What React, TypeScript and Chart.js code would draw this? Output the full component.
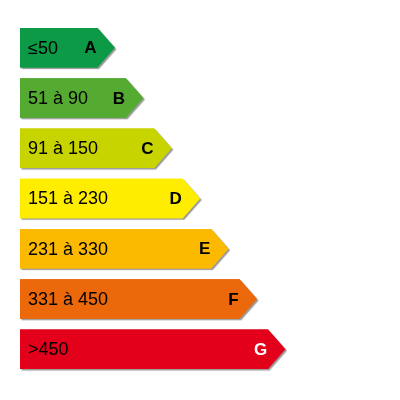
import React from 'react';
import { Chart, registerables } from 'chart.js';

Chart.register(...registerables);

const classLetters = ['A', 'B', 'C', 'D', 'E', 'F', 'G'];
const rangeLabels = ['≤50', '51 à 90', '91 à 150', '151 à 230', '231 à 330', '331 à 450', '>450'];
// bar length per class (arbitrary units, one step per class)
const classRank = [1, 2, 3, 4, 5, 6, 7];
const classColors = ['#0c9a47', '#55ab32', '#c8d400', '#ffed00', '#fbba00', '#eb690b', '#e2001a'];
const letterColors = ['#000', '#000', '#000', '#000', '#000', '#000', '#fff'];

const AXIS_MIN = -1.73;
const AXIS_MAX = 11.64;

const arrowPlugin = {
    id: 'energyArrows',
    beforeDatasetsDraw(chart: any) {
        const ctx = chart.ctx;
        const meta = chart.getDatasetMeta(0);
        meta.data.forEach((bar: any, i: number) => {
            const top = bar.y - bar.height / 2;
            const bottom = bar.y + bar.height / 2;
            const tip = bar.height * 0.44;
            ctx.save();
            ctx.shadowColor = 'rgba(0,0,0,0.4)';
            ctx.shadowOffsetX = 1.5;
            ctx.shadowOffsetY = 1.5;
            ctx.shadowBlur = 1;
            ctx.fillStyle = classColors[i];
            ctx.beginPath();
            ctx.moveTo(bar.base, top);
            ctx.lineTo(bar.x, top);
            ctx.lineTo(bar.x + tip, bar.y);
            ctx.lineTo(bar.x, bottom);
            ctx.lineTo(bar.base, bottom);
            ctx.closePath();
            ctx.fill();
            ctx.restore();
        });
    },
    afterDatasetsDraw(chart: any) {
        const ctx = chart.ctx;
        const meta = chart.getDatasetMeta(0);
        meta.data.forEach((bar: any, i: number) => {
            ctx.save();
            ctx.textBaseline = 'middle';
            ctx.fillStyle = '#000';
            ctx.textAlign = 'left';
            ctx.font = '18px "Liberation Sans", Arial, sans-serif';
            ctx.fillText(rangeLabels[i], bar.base + 8, bar.y + 1);
            ctx.textAlign = 'right';
            ctx.font = 'bold 17px "Liberation Sans", Arial, sans-serif';
            ctx.fillStyle = letterColors[i];
            ctx.fillText(classLetters[i], bar.x - 1, bar.y + 1);
            ctx.restore();
        });
    }
};

const EnergyLabel: React.FC = () => {
    const chartRef = React.useRef<HTMLCanvasElement>(null);
    const chartInstance = React.useRef<Chart | null>(null);

    React.useEffect(() => {
        if (chartRef.current) {
            const ctx = chartRef.current.getContext('2d');
            if (ctx) {
                if (chartInstance.current) {
                    chartInstance.current.destroy();
                }
                chartInstance.current = new Chart(ctx, {
                    type: 'bar',
                    data: {
                        labels: classLetters,
                        datasets: [{
                            data: classRank,
                            base: AXIS_MIN,
                            backgroundColor: classColors,
                            borderWidth: 0,
                            barPercentage: 0.786,
                            categoryPercentage: 1
                        } as any]
                    },
                    options: {
                        indexAxis: 'y',
                        animation: false,
                        responsive: false,
                        devicePixelRatio: 1,
                        layout: { padding: { left: 20, right: 0, top: 22.5, bottom: 25.7 } },
                        plugins: { legend: { display: false }, tooltip: { enabled: false } },
                        scales: {
                            x: { display: false, min: AXIS_MIN, max: AXIS_MAX },
                            y: { display: false }
                        }
                    },
                    plugins: [arrowPlugin]
                });
            }
        }
        return () => {
            if (chartInstance.current) {
                chartInstance.current.destroy();
                chartInstance.current = null;
            }
        };
    }, []);

    return <canvas ref={chartRef} width={400} height={400}></canvas>;
};

export default function App() {
    return (
        <div style={{ position: 'fixed', left: 0, top: 0, width: 400, height: 400, background: '#fff' }}>
            <EnergyLabel />
        </div>
    );
}
